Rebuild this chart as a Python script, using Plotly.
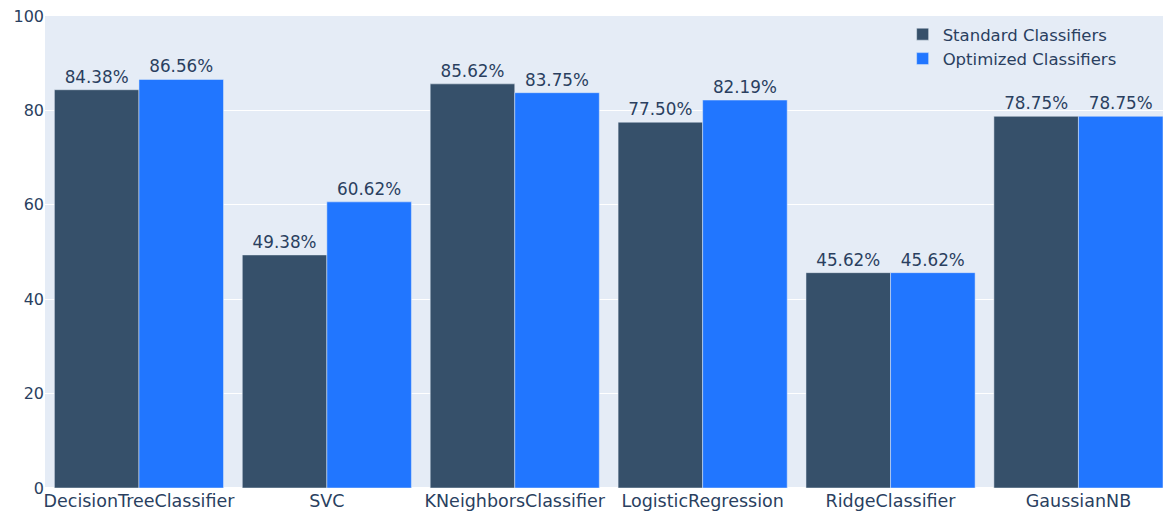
import plotly.graph_objects as go

classifiers = ["DecisionTreeClassifier", "SVC", "KNeighborsClassifier",
               "LogisticRegression", "RidgeClassifier", "GaussianNB"]
standard_acc = [84.38, 49.38, 85.62, 77.50, 45.62, 78.75]
optimized_acc = [86.56, 60.62, 83.75, 82.19, 45.62, 78.75]

fig = go.Figure()
fig.add_trace(go.Bar(
    x=classifiers, y=standard_acc, name="Standard Classifiers",
    marker_color="#36506A",
    text=[f"{v:.2f}%" for v in standard_acc], textposition="outside",
    textfont=dict(size=16.8),
    cliponaxis=False,
))
fig.add_trace(go.Bar(
    x=classifiers, y=optimized_acc, name="Optimized Classifiers",
    marker_color="#2176FF",
    text=[f"{v:.2f}%" for v in optimized_acc], textposition="outside",
    textfont=dict(size=16.8),
    cliponaxis=False,
))

fig.update_layout(
    template="plotly",
    width=1166, height=514,
    margin=dict(l=45, r=3, t=16, b=26),
    barmode="group",
    bargap=0.1,
    bargroupgap=0,
    font=dict(family="DejaVu Sans, Verdana, sans-serif", size=16, color="#2a3f5f"),
    legend=dict(x=0.963, y=0.998, xanchor="right", yanchor="top",
                bgcolor="rgba(0,0,0,0)", font=dict(size=16.5)),
    yaxis=dict(range=[0, 100], tickfont=dict(size=16), dtick=20),
    xaxis=dict(range=[-0.5, 5.45], tickfont=dict(size=17.5)),
    uniformtext=dict(minsize=16, mode="show"),
)

fig.write_html("out.html")
